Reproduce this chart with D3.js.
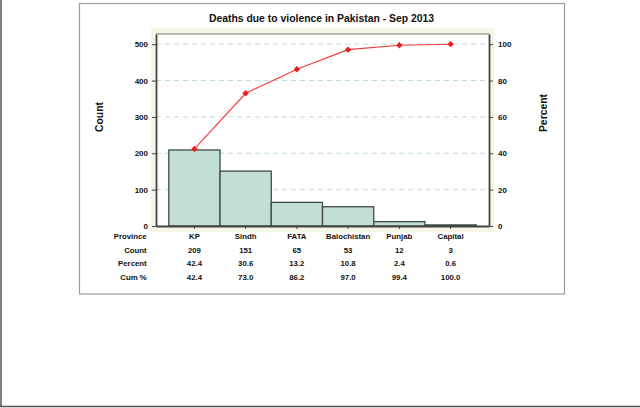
<!DOCTYPE html>
<html>
<head>
<meta charset="utf-8">
<script src="https://cdn.jsdelivr.net/npm/d3@7"></script>
<style>
  html, body { margin: 0; padding: 0; background: #fff; }
  svg { display: block; font-family: "Liberation Sans", Arial, sans-serif; }
</style>
</head>
<body>
<svg id="chart" width="640" height="408"></svg>
<script>
// ---- data ----
const provinces = ["KP", "Sindh", "FATA", "Balochistan", "Punjab", "Capital"];
const counts = [209, 151, 65, 53, 12, 3];
const percents = ["42.4", "30.6", "13.2", "10.8", "2.4", "0.6"];
const cumPercents = [42.4, 73.0, 86.2, 97.0, 99.4, 100.0];
const cumLabels = ["42.4", "73.0", "86.2", "97.0", "99.4", "100.0"];
const countTicks = [0, 100, 200, 300, 400, 500];
const percentTicks = [0, 20, 40, 60, 80, 100];
const rowLabels = ["Province", "Count", "Percent", "Cum %"];
const title = "Deaths due to violence in Pakistan - Sep 2013";

// ---- layout ----
const svg = d3.select("#chart");
const plot = { left: 156, right: 489, top: 34, bottom: 226 };

// outer frame (left & bottom edges)
svg.append("line").attr("x1", 1).attr("x2", 1).attr("y1", 0).attr("y2", 407)
  .attr("stroke", "#555").attr("stroke-width", 1.5);
svg.append("line").attr("x1", 0).attr("x2", 640).attr("y1", 406.5).attr("y2", 406.5)
  .attr("stroke", "#555").attr("stroke-width", 1.5);

// chart frame
svg.append("rect").attr("x", 79.5).attr("y", 3.5).attr("width", 485).attr("height", 290.5)
  .attr("fill", "#fff").attr("stroke", "#9a9a9a").attr("stroke-width", 1.2);

// cream background around plot
svg.append("rect").attr("x", 151).attr("y", 28).attr("width", 343).attr("height", 204)
  .attr("fill", "#f5f6e5");
svg.append("rect").attr("x", plot.left).attr("y", plot.top)
  .attr("width", plot.right - plot.left).attr("height", plot.bottom - plot.top)
  .attr("fill", "#fff");

// scales
const x = d3.scaleBand().domain(provinces).range([plot.left, plot.right])
  .paddingInner(0).paddingOuter(0.25);
const yCount = d3.scaleLinear().domain([0, 528]).range([plot.bottom, plot.top]);
const yPct = d3.scaleLinear().domain([0, 105.6]).range([plot.bottom, plot.top]);

// grid lines
svg.append("g").selectAll("line").data(countTicks.filter(d => d > 0)).join("line")
  .attr("x1", plot.left).attr("x2", plot.right)
  .attr("y1", d => yCount(d)).attr("y2", d => yCount(d))
  .attr("stroke", "#bfdedb").attr("stroke-width", 1).attr("stroke-dasharray", "5,4");

// bars
svg.append("g").selectAll("rect").data(provinces).join("rect")
  .attr("x", d => x(d)).attr("width", x.bandwidth())
  .attr("y", (d, i) => yCount(counts[i]))
  .attr("height", (d, i) => plot.bottom - yCount(counts[i]))
  .attr("fill", "#c2dfd4").attr("stroke", "#3f4a47").attr("stroke-width", 1.3);

// plot frame
svg.append("line").attr("x1", plot.left).attr("x2", plot.right).attr("y1", plot.top).attr("y2", plot.top)
  .attr("stroke", "#777").attr("stroke-width", 1);

// axes
const fontTick = "bold 8px 'Liberation Sans', Arial, sans-serif";
const leftAxis = d3.axisLeft(yCount).tickValues(countTicks).tickSize(4).tickPadding(4).tickSizeOuter(0);
const gl = svg.append("g").attr("transform", `translate(${plot.left},0)`).call(leftAxis);
const rightAxis = d3.axisRight(yPct).tickValues(percentTicks).tickSize(4).tickPadding(5).tickSizeOuter(0);
const gr = svg.append("g").attr("transform", `translate(${plot.right},0)`).call(rightAxis);
const bottomAxis = d3.axisBottom(x).tickSize(3).tickSizeOuter(0).tickFormat("");
const gb = svg.append("g").attr("transform", `translate(0,${plot.bottom})`).call(bottomAxis);
[gl, gr, gb].forEach(g => {
  g.select(".domain").attr("stroke", "#444").attr("stroke-width", 1.8);
  g.selectAll(".tick line").attr("stroke", "#444");
  g.selectAll(".tick text").attr("fill", "#111").style("font", fontTick);
});

// cumulative percent line
const line = d3.line().x((d, i) => x(provinces[i]) + x.bandwidth() / 2).y(d => yPct(d));
svg.append("path").datum(cumPercents).attr("d", line)
  .attr("fill", "none").attr("stroke", "#f23a3a").attr("stroke-width", 1.1);
svg.append("g").selectAll("path").data(cumPercents).join("path")
  .attr("d", d3.symbol().type(d3.symbolDiamond2).size(26))
  .attr("transform", (d, i) => `translate(${x(provinces[i]) + x.bandwidth() / 2},${yPct(d)})`)
  .attr("fill", "#ee1c1c");

// title
svg.append("text").attr("x", 321.5).attr("y", 22.3).attr("text-anchor", "middle")
  .style("font", "bold 10.4px 'Liberation Sans', Arial, sans-serif").attr("fill", "#111")
  .text(title);

// axis titles
svg.append("text").attr("transform", "translate(103,117) rotate(-90)").attr("text-anchor", "middle")
  .style("font", "bold 10.4px 'Liberation Sans', Arial, sans-serif").attr("fill", "#111").text("Count");
svg.append("text").attr("transform", "translate(547,113) rotate(-90)").attr("text-anchor", "middle")
  .style("font", "bold 10.4px 'Liberation Sans', Arial, sans-serif").attr("fill", "#111").text("Percent");

// table below
const rowsY = [238.8, 252.5, 266.2, 280];
const tableFont = "bold 7.8px 'Liberation Sans', Arial, sans-serif";
const rows = [provinces, counts.map(String), percents, cumLabels];
rowLabels.forEach((lab, r) => {
  svg.append("text").attr("x", 146.7).attr("y", rowsY[r]).attr("text-anchor", "end")
    .style("font", tableFont).attr("fill", "#111").text(lab);
  svg.append("g").selectAll("text").data(rows[r]).join("text")
    .attr("x", (d, i) => x(provinces[i]) + x.bandwidth() / 2).attr("y", rowsY[r])
    .attr("text-anchor", "middle").style("font", tableFont).attr("fill", "#111").text(d => d);
});
</script>
</body>
</html>
